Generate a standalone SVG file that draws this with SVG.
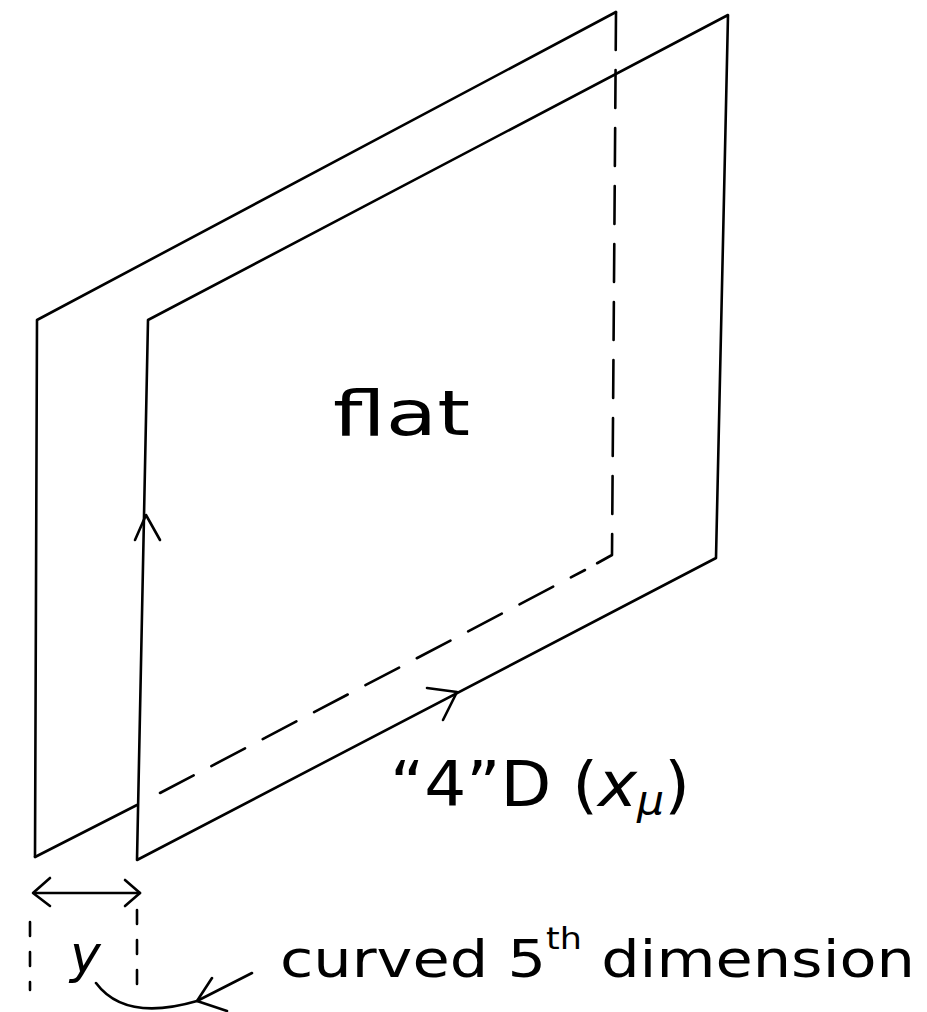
<svg xmlns="http://www.w3.org/2000/svg" width="927" height="1012" viewBox="0 0 927 1012">
<style>
.l{fill:none;stroke:#000;stroke-width:2.6;stroke-linecap:round;stroke-linejoin:round}
.d{stroke-dasharray:38 20}
.t{font-family:"DejaVu Sans","Liberation Sans",sans-serif;fill:#000}
</style>
<rect width="927" height="1012" fill="#fff"/>
<g id="back-plane">
<path class="l" d="M35 857 L37 320 L616 12"/>
<path class="l d" d="M616 12 L612 555 L585 570"/>
<path class="l" d="M35 857 L137 805"/>
<path class="l d" d="M160 793 L585 570"/>
</g>
<g id="front-plane">
<path class="l" d="M137 860 L148 320 L728 15 L716 558 Z"/>
</g>
<g id="connectors">
<path class="l" d="M135 540 L146 515 L160 540"/>
<path class="l" d="M427 688 L457 692 L443 720"/>
<path class="l" d="M35 893 L140 893"/>
<path class="l" d="M50 878 L33 893 L50 906"/>
<path class="l" d="M125 880 L140 893 L125 906"/>
<path class="l" d="M30 922 L30 990" stroke-dasharray="14 16"/>
<path class="l" d="M137 910 L137 1000" stroke-dasharray="14 16"/>
<path class="l" d="M96 983 Q125 1022 197 1001 L252 973"/>
<path class="l" d="M212 978 L197 1001 L227 1011"/>
</g>
<g id="labels">
<text class="t" x="333" y="435" font-size="62" textLength="137" lengthAdjust="spacingAndGlyphs">flat</text>
<text class="t" x="390" y="806" font-size="62" textLength="300" lengthAdjust="spacingAndGlyphs">“4”D (<tspan font-style="italic">x</tspan><tspan font-size="40" dy="8" font-style="italic">μ</tspan><tspan dy="-8">)</tspan></text>
<text class="t" x="70" y="972" font-size="52" font-style="italic">y</text>
<text class="t" x="280" y="977" font-size="52" textLength="635" lengthAdjust="spacingAndGlyphs">curved 5<tspan font-size="30" dy="-28">th</tspan><tspan dy="28"> dimension</tspan></text>
</g>
</svg>
